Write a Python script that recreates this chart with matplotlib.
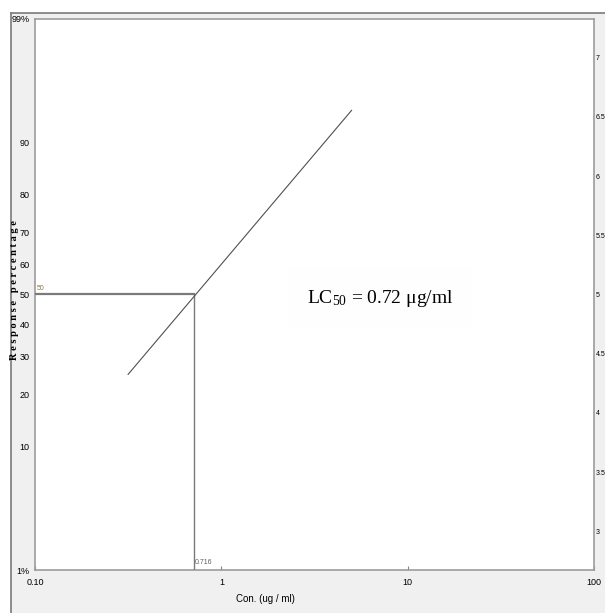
import matplotlib
matplotlib.use('Agg')
import matplotlib.pyplot as plt
from matplotlib.patches import Rectangle
from matplotlib import font_manager
from statistics import NormalDist

# chart values
pct_ticks = [1, 10, 20, 30, 40, 50, 60, 70, 80, 90, 99]
pct_labels = ['1%', '10', '20', '30', '40', '50', '60', '70', '80', '90', '99%']
probit_ticks = [3, 3.5, 4, 4.5, 5, 5.5, 6, 6.5, 7]
probit_labels = ['3', '3.5', '4', '4.5', '5', '5.5', '6', '6.5', '7']
x_ticks = [0.1, 1, 10, 100]
x_labels = ['0.10', '1', '10', '100']
line_conc = [0.316, 5.0]      # regression line ends (ug/ml)
line_resp = [25.0, 94.0]      # response % at those ends
lc50 = 0.716
lc50_resp = 50


def probit(p):
    return NormalDist().inv_cdf(p / 100.0) + 5


plt.rcParams['mathtext.fontset'] = 'custom'
plt.rcParams['mathtext.rm'] = 'Liberation Serif'
plt.rcParams['mathtext.it'] = 'Liberation Serif:italic'

names = {f.name for f in font_manager.fontManager.ttflist}
if 'Liberation Sans Narrow' in names:
    narrow = ['Liberation Sans Narrow', 'DejaVu Sans']
    tick_fs = 8
else:
    narrow = ['Liberation Sans', 'DejaVu Sans']
    tick_fs = 6.5
W, H = 605, 613

fig = plt.figure(figsize=(W / 100, H / 100), dpi=100, facecolor='white')

# grey panel behind the plot
fig.patches.append(Rectangle((11 / W, 0), 1 - 11 / W, 1 - 13 / H, transform=fig.transFigure,
                             facecolor='#f0f0f0', edgecolor='none', zorder=-10))
fig.add_artist(plt.Line2D([11 / W, 11 / W], [0, 1 - 13 / H], transform=fig.transFigure,
                          color='#7a7a7a', lw=1.2, zorder=-9))
fig.add_artist(plt.Line2D([11 / W, 1], [1 - 13 / H, 1 - 13 / H], transform=fig.transFigure,
                          color='#7a7a7a', lw=1.2, zorder=-9))

ax = fig.add_axes([35 / W, 1 - 570 / H, (594 - 35) / W, (570 - 19) / H])
ax.set_facecolor('white')
ax.set_xscale('log')
ax.set_xlim(0.1, 100)
ax.set_ylim(probit(1), probit(99))
for s in ax.spines.values():
    s.set_color('#9c9c9c')
    s.set_linewidth(1.2)

ax.set_xticks(x_ticks)
ax.set_xticklabels(x_labels, fontsize=tick_fs, family=narrow)
ax.xaxis.set_minor_locator(matplotlib.ticker.NullLocator())
ax.tick_params(axis='x', direction='in', length=3, color='#a070a0', pad=6)
ax.set_yticks([probit(p) for p in pct_ticks])
ax.set_yticklabels(pct_labels, fontsize=tick_fs, family=narrow)
ax.tick_params(axis='y', length=0, pad=4)

ax2 = ax.twinx()
ax2.set_ylim(probit(1), probit(99))
ax2.set_yticks(probit_ticks)
ax2.set_yticklabels(probit_labels, fontsize=5, family=narrow)
ax2.tick_params(axis='y', length=0, pad=1)
for s in ax2.spines.values():
    s.set_visible(False)

# reference lines at LC50
y50 = probit(lc50_resp)
ax.plot([0.1, lc50], [y50, y50], color='#7a7a7a', lw=1.6, zorder=3)
ax.plot([lc50, lc50], [probit(1), y50], color='#7a7a7a', lw=1.0, zorder=3)

# regression line
ax.plot(line_conc, [probit(r) for r in line_resp], color='#505050', lw=0.8, zorder=4)

ax.text(0.102, y50 + 0.02, '50', fontsize=5, color='#8a7a40', family=narrow, va='bottom')
ax.text(lc50, probit(1) + 0.03, '0.716', fontsize=5, color='#606060', family=narrow, va='bottom')

ax.text(7.1, y50 - 0.03, r'LC$_{\mathrm{50}}$ = 0.72 μg/ml', fontsize=14, family='Liberation Serif',
        ha='center', va='center', zorder=5,
        bbox=dict(boxstyle='square,pad=1.0', facecolor='#fefefe', edgecolor='none'))

fig.text(15 / W, 1 - 290 / H, 'R e s p o n s e   p e r c e n t a g e', rotation=90, fontsize=7.5,
         fontweight='bold', family='Liberation Serif', ha='center', va='center')
fig.text(265 / W, 1 - 599 / H, 'Con. (ug / ml)', fontsize=tick_fs + 0.5, family=narrow,
         ha='center', va='center')

fig.savefig('out.png', dpi=100, facecolor='white')
